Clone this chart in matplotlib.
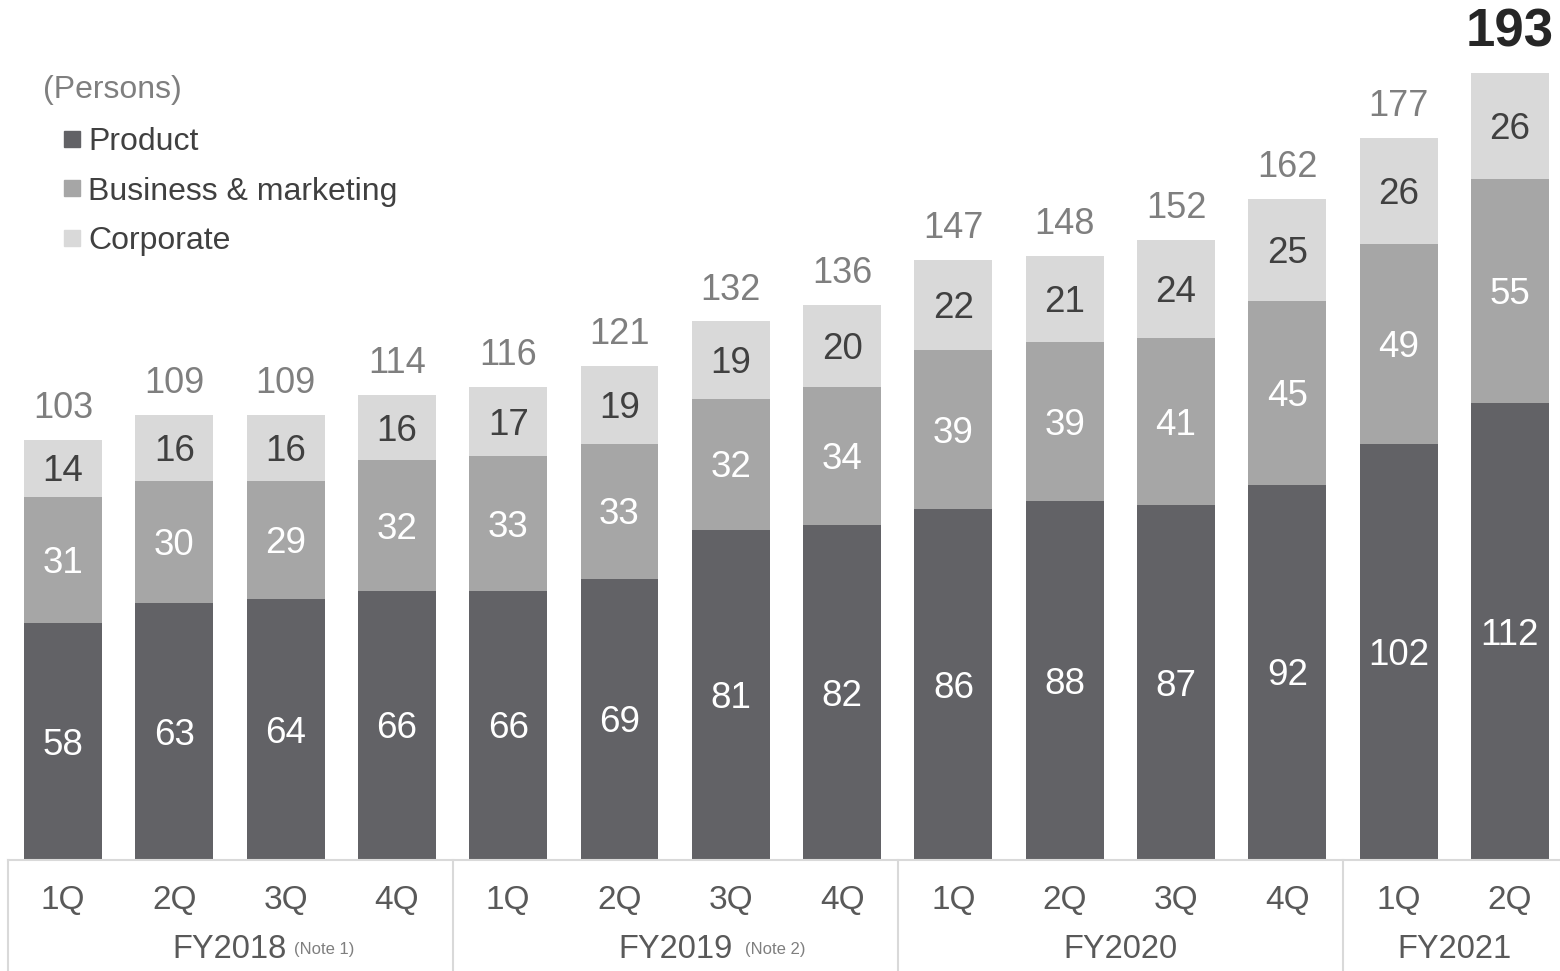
import matplotlib.pyplot as plt
from matplotlib.lines import Line2D

plt.rcParams["font.family"] = ["Liberation Sans", "DejaVu Sans"]

QUARTERS = ["1Q", "2Q", "3Q", "4Q", "1Q", "2Q", "3Q", "4Q",
            "1Q", "2Q", "3Q", "4Q", "1Q", "2Q"]
FISCAL_YEARS = ["FY2018", "FY2019", "FY2020", "FY2021"]
YEAR_NOTES = ["(Note 1)", "(Note 2)", "", ""]
QUARTERS_PER_YEAR = [4, 4, 4, 2]

product = [58, 63, 64, 66, 66, 69, 81, 82, 86, 88, 87, 92, 102, 112]
business = [31, 30, 29, 32, 33, 33, 32, 34, 39, 39, 41, 45, 49, 55]
corporate = [14, 16, 16, 16, 17, 19, 19, 20, 22, 21, 24, 25, 26, 26]

SERIES = [
    ("Product", product, "#626266", "white"),
    ("Business & marketing", business, "#a6a6a6", "white"),
    ("Corporate", corporate, "#d9d9d9", "#404040"),
]
LINE_GREY = "#d9d9d9"


def main():
    fig = plt.figure(figsize=(15.6, 9.71), dpi=100)
    ax = fig.add_axes([8 / 1560, 111 / 971, 1552 / 1560, 860 / 971])
    x = list(range(len(QUARTERS)))
    ax.set_xlim(-0.494, 13.45)
    ax.set_ylim(0, 210.8)
    ax.axis("off")

    bottoms = [0] * len(x)
    for name, values, color, text_color in SERIES:
        ax.bar(x, values, width=0.70, bottom=bottoms, color=color, label=name)
        for i, v in enumerate(values):
            # nudge down a little so the digits sit visually centred
            ax.annotate(str(v), (i, bottoms[i] + v / 2), xytext=(0, -2.6),
                        textcoords="offset points", ha="center", va="center",
                        fontsize=26.5, color=text_color)
        bottoms = [b + v for b, v in zip(bottoms, values)]

    # totals above each stack, latest quarter highlighted
    for i, total in enumerate(bottoms):
        if i == len(bottoms) - 1:
            ax.annotate(str(total), (i, total), xytext=(0, 11),
                        textcoords="offset points", ha="center", va="bottom",
                        fontsize=38, fontweight="bold", color="#262626")
        else:
            ax.annotate(str(total), (i, total), xytext=(0, 10),
                        textcoords="offset points", ha="center", va="bottom",
                        fontsize=26, color="#7f7f7f")

    # table-like category axis under the bars
    table_bottom = -28
    ax.plot([-0.494, 13.45], [0, 0], color=LINE_GREY, lw=1.5, clip_on=False)
    start = 0
    edges = [-0.494]
    for n in QUARTERS_PER_YEAR:
        start += n
        edges.append(start - 0.5)
    for e in edges[:-1]:
        ax.plot([e, e], [0, table_bottom], color=LINE_GREY, lw=1.5,
                clip_on=False)

    for i, q in enumerate(QUARTERS):
        ax.text(i, -9.9, q, ha="center", va="center", fontsize=24,
                color="#595959", clip_on=False)

    start = 0
    note_gaps = [5, 9, 0, 0]
    for fy, note, n, gap in zip(FISCAL_YEARS, YEAR_NOTES, QUARTERS_PER_YEAR,
                                note_gaps):
        center = start + (n - 1) / 2
        t = ax.text(center, -22.0, fy, ha="center", va="center", fontsize=23.5,
                    color="#595959", clip_on=False)
        if note:
            ax.annotate(note, xy=(1, 0.28), xycoords=t, xytext=(gap, 0),
                        textcoords="offset points", ha="left", va="bottom",
                        fontsize=12, color="#7f7f7f")
        start += n

    fig.text(43 / 1560, 1 - 90 / 971, "(Persons)", ha="left", va="center",
             fontsize=23, color="#7f7f7f")

    handles = [Line2D([], [], marker="s", linestyle="", markersize=12,
                      color=color) for _, _, color, _ in SERIES]
    fig.legend(handles, [s[0] for s in SERIES], loc="upper left",
               bbox_to_anchor=(50 / 1560, 1 - 114 / 971), frameon=False,
               fontsize=23, handlelength=0.6, handletextpad=0.2,
               labelspacing=0.62, labelcolor="#404040", borderaxespad=0)

    fig.savefig("out.png", dpi=100)


if __name__ == "__main__":
    main()
